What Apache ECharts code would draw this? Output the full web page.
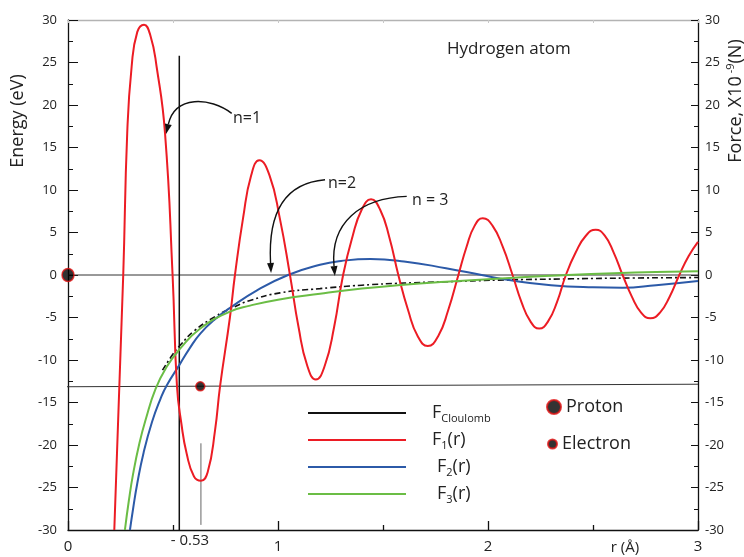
<!DOCTYPE html>
<html>
<head>
<meta charset="utf-8">
<script src="https://cdn.jsdelivr.net/npm/echarts@6.0.0/dist/echarts.min.js"></script>
<style>
html, body { margin: 0; padding: 0; background: #fff; }
#chart { width: 744px; height: 557px; }
</style>
</head>
<body>
<div id="chart"></div>
<script>
// values, r in Å, force in 1e-9 N
const xTicks = [0, 1, 2, 3]
const f1Data = [
  [0.2205, -30], [0.263, 0], [0.282, 16.7], [0.303, 24.5], [0.33, 28.6], [0.362, 29.45],
  [0.392, 28.2], [0.422, 24.5], [0.462, 16.7], [0.498, 0], [0.519, -13.1], [0.54, -17.5],
  [0.565, -21], [0.60, -23.7], [0.633, -24.2], [0.665, -23.2], [0.70, -18.3], [0.724, -13.1],
  [0.771, -5], [0.795, 0], [0.834, 6.75], [0.872, 11.7], [0.911, 13.5], [0.96, 11.7],
  [1.008, 6.75], [1.057, 0], [1.098, -6.15], [1.139, -10.65], [1.18, -12.3], [1.223, -10.65],
  [1.267, -6.15], [1.31, 0], [1.354, 4.45], [1.399, 7.7], [1.443, 8.9], [1.486, 7.7],
  [1.53, 4.45], [1.573, 0], [1.62, -4.18], [1.666, -7.23], [1.713, -8.35], [1.762, -7.23],
  [1.81, -4.18], [1.859, 0], [1.898, 3.33], [1.936, 5.78], [1.975, 6.67], [2.022, 5.78],
  [2.07, 3.33], [2.117, 0], [2.159, -3.15], [2.202, -5.46], [2.244, -6.3], [2.286, -5.46],
  [2.329, -3.15], [2.371, 0], [2.418, 2.67], [2.466, 4.62], [2.513, 5.33], [2.556, 4.62],
  [2.598, 2.67], [2.641, 0], [2.685, -2.55], [2.729, -4.42], [2.773, -5.1], [2.819, -4.42],
  [2.865, -2.55], [2.911, 0], [2.955, 2.2], [3.0, 3.9]
]
const f2Data = [
  [0.295, -30], [0.31, -27.5], [0.33, -24.5], [0.36, -20.9], [0.40, -17.3], [0.44, -14.6],
  [0.47, -13.0], [0.53, -10.6], [0.58, -8.6], [0.63, -6.9], [0.70, -5.2], [0.77, -3.9],
  [0.90, -1.8], [1.048, 0], [1.2, 1.2], [1.3, 1.65], [1.44, 1.88], [1.6, 1.6],
  [1.8, 0.8], [1.97, 0], [2.1, -0.6], [2.3, -1.2], [2.5, -1.45], [2.64, -1.5],
  [2.8, -1.2], [3.0, -0.7]
]
const f3Data = [
  [0.271, -30], [0.29, -26.5], [0.31, -23.4], [0.34, -19.8], [0.37, -17.0], [0.417, -13.4],
  [0.47, -10.8], [0.533, -8.7], [0.63, -6.3], [0.771, -4.3], [0.867, -3.6], [1.0, -2.9],
  [1.2, -2.2], [1.4, -1.6], [1.6, -1.15], [1.8, -0.8], [2.0, -0.5], [2.2, -0.2],
  [2.38, 0], [2.6, 0.2], [2.8, 0.35], [3.0, 0.45]
]
const coulombData = [
  [0.45, -11.2], [0.5, -9.3], [0.533, -8.3], [0.6, -6.6], [0.7, -4.9], [0.771, -4.0],
  [0.867, -3.0], [1.01, -2.1], [1.2, -1.6], [1.4, -1.2], [1.6, -0.95], [1.8, -0.8],
  [2.05, -0.6], [2.4, -0.45], [2.7, -0.35], [3.0, -0.3]
]
const zeroLine = [[0, 0], [3, 0]]
const groundLine = [[-0.046, -13.15], [3, -12.85]]
const bohrLine = [[0.53, -30], [0.53, 25.8]]
const electronTick = [[0.633, -19.8], [0.633, -29.4]]
const protonPos = [[0, 0]]
const electronPos = [[0.63, -13.1]]
// arrows: start, control 1, control 2, tip (data coords)
const arrowN1 = [[0.7795, 19.02], [0.676, 20.94], [0.51, 21.18], [0.467, 16.59]]
const arrowN2 = [[1.224, 11.21], [1.033, 10.82], [0.952, 7.29], [0.967, 0.24]]
const arrowN3 = [[1.613, 9.25], [1.39, 9.06], [1.248, 6.12], [1.271, -0.12]]

const FONT = 'Open Sans'
const myChart = echarts.init(document.getElementById('chart'))

const plainLine = (data, color, width, extra) => Object.assign({
  type: 'line',
  data: data,
  showSymbol: false,
  silent: true,
  lineStyle: { color: color, width: width },
  itemStyle: { color: color },
  z: 2
}, extra || {})

const curve = (name, data, color, extra) => Object.assign({
  name: name,
  type: 'line',
  data: data,
  smooth: 0.5,
  showSymbol: false,
  lineStyle: { color: color, width: 2 },
  itemStyle: { color: color },
  z: 3
}, extra || {})

const legendLabels = {
  Coulomb: '{f|F}{s|Cloulomb}',
  F1: '{f|F}{s|1}{g|(r)}',
  F2: '{h|F}{s|2}{g|(r)}',
  F3: '{h|F}{s|3}{g|(r)}'
}

myChart.setOption({
  animation: false,
  textStyle: { fontFamily: FONT },
  grid: { left: 68, right: 46, top: 20, bottom: 27 },
  xAxis: [
    {
      type: 'value', min: 0, max: 3, interval: 1,
      axisLine: { onZero: false, lineStyle: { color: '#111', width: 1.3 } },
      axisTick: { inside: true, length: 9, lineStyle: { color: '#111', width: 1.3 } },
      minorTick: { show: true, splitNumber: 2, length: 5, lineStyle: { color: '#111', width: 1.3 } },
      splitLine: { show: false },
      axisLabel: {
        color: '#222', fontSize: 15, margin: 9, fontFamily: FONT,
        formatter: (v) => xTicks.includes(v) ? String(v) : ''
      }
    },
    {
      type: 'value', position: 'top', min: 0, max: 3, interval: 0.5,
      axisLine: { onZero: false, lineStyle: { color: '#b3b3b3', width: 1.3 } },
      axisTick: { inside: true, length: 3, lineStyle: { color: '#c8c8c8' } },
      axisLabel: { show: false },
      splitLine: { show: false }
    }
  ],
  yAxis: [
    {
      type: 'value', min: -30, max: 30, interval: 5, position: 'left',
      axisLine: { show: true, onZero: false, lineStyle: { color: '#111', width: 1.3 } },
      axisTick: { show: true, inside: true, length: 10, lineStyle: { color: '#111' } },
      minorTick: { show: true, splitNumber: 2, length: 5, lineStyle: { color: '#111' } },
      splitLine: { show: false },
      axisLabel: { color: '#222', fontSize: 13, margin: 11, fontFamily: FONT }
    },
    {
      type: 'value', min: -30, max: 30, interval: 5, position: 'right',
      axisLine: { show: true, onZero: false, lineStyle: { color: '#111', width: 1.3 } },
      axisTick: { show: true, inside: true, length: 7, lineStyle: { color: '#111' } },
      minorTick: { show: true, splitNumber: 2, length: 4, lineStyle: { color: '#111' } },
      splitLine: { show: false },
      axisLabel: { color: '#222', fontSize: 13, margin: 7, fontFamily: FONT }
    }
  ],
  legend: [
    {
      data: ['Coulomb', 'F1', 'F2', 'F3'],
      orient: 'vertical', left: 303, top: 399,
      itemWidth: 98, itemHeight: 2, itemGap: 7,
      icon: 'rect', selectedMode: false,
      formatter: (n) => legendLabels[n],
      textStyle: {
        color: '#222',
        rich: {
          f: { fontSize: 18, lineHeight: 22, padding: [0, 0, 0, 21], fontFamily: FONT, color: '#222' },
          h: { fontSize: 18, lineHeight: 22, padding: [0, 0, 0, 26], fontFamily: FONT, color: '#222' },
          g: { fontSize: 18, lineHeight: 22, fontFamily: FONT, color: '#222' },
          s: { fontSize: 11, lineHeight: 12, verticalAlign: 'bottom', fontFamily: FONT, color: '#222' }
        }
      }
    },
    {
      data: [{ name: 'Proton', icon: 'circle' }],
      left: 541, top: 391, itemWidth: 14, itemHeight: 16, selectedMode: false,
      textStyle: { fontSize: 18, lineHeight: 22, color: '#222', fontFamily: FONT }
    },
    {
      data: [{ name: 'Electron', icon: 'circle' }],
      left: 542, top: 428, itemWidth: 9, itemHeight: 9, selectedMode: false,
      textStyle: { fontSize: 18, lineHeight: 22, color: '#222', fontFamily: FONT }
    }
  ],
  series: [
    plainLine(zeroLine, '#333', 1),
    plainLine(groundLine, '#333', 1, { clip: false }),
    plainLine(bohrLine, '#111', 1.5),
    plainLine(electronTick, '#666', 1),
    curve('Coulomb', coulombData, '#111', { lineStyle: { color: '#111', width: 1.6, type: [6, 3, 2, 3] } }),
    curve('F2', f2Data, '#2c5aa8'),
    curve('F1', f1Data, '#ec1c24'),
    curve('F3', f3Data, '#6bbd45'),
    {
      name: 'Proton', type: 'scatter', data: protonPos, symbol: 'circle', symbolSize: [12, 13],
      clip: false, z: 5,
      itemStyle: { color: '#000', borderColor: '#e01010', borderWidth: 1.5 }
    },
    {
      name: 'Electron', type: 'scatter', data: electronPos, symbol: 'circle', symbolSize: 9,
      clip: false, z: 5,
      itemStyle: { color: '#000', borderColor: '#e01010', borderWidth: 1.5 }
    }
  ]
})

const arrowShapes = (pts) => {
  const p = pts.map((q) => myChart.convertToPixel({ gridIndex: 0 }, q))
  const [s, c1, c2, t] = p
  const dx = t[0] - c2[0]
  const dy = t[1] - c2[1]
  const len = Math.hypot(dx, dy)
  const ux = dx / len
  const uy = dy / len
  const hl = 10
  const hw = 3.5
  const base = [t[0] - ux * hl, t[1] - uy * hl]
  return [
    {
      type: 'bezierCurve', silent: true, z: 10,
      shape: { x1: s[0], y1: s[1], cpx1: c1[0], cpy1: c1[1], cpx2: c2[0], cpy2: c2[1], x2: base[0], y2: base[1] },
      style: { stroke: '#111', lineWidth: 1.4, fill: 'none' }
    },
    {
      type: 'polygon', silent: true, z: 10,
      shape: { points: [t, [base[0] - uy * hw, base[1] + ux * hw], [base[0] + uy * hw, base[1] - ux * hw]] },
      style: { fill: '#111' }
    }
  ]
}

const label = (text, x, y, size, align) => ({
  type: 'text', x: x, y: y, silent: true, z: 10,
  style: { text: text, fontSize: size, fontFamily: FONT, fill: '#222', align: align || 'left', verticalAlign: 'middle' }
})

myChart.setOption({
  graphic: [
    ...arrowShapes(arrowN1),
    ...arrowShapes(arrowN2),
    ...arrowShapes(arrowN3),
    label('Hydrogen atom', 447, 49, 17),
    label('n=1', 233, 118, 16),
    label('n=2', 328, 183, 16),
    label('n = 3', 412, 200, 16),
    label('- 0.53', 190, 541, 15, 'center'),
    label('r (Å)', 625, 548, 15, 'center'),
    {
      type: 'text', x: 18, y: 121, rotation: Math.PI / 2, silent: true,
      style: { text: 'Energy (eV)', fontSize: 18, fontFamily: FONT, fill: '#222', align: 'center', verticalAlign: 'middle' }
    },
    {
      type: 'text', x: 736, y: 101, rotation: Math.PI / 2, silent: true,
      style: {
        text: '{a|Force, X10}{b| -9}{a|(N)}',
        align: 'center', verticalAlign: 'middle',
        rich: {
          a: { fontSize: 18, fontFamily: FONT, fill: '#222', lineHeight: 22 },
          b: { fontSize: 11, fontFamily: FONT, fill: '#222', verticalAlign: 'top', lineHeight: 12 }
        }
      }
    }
  ]
})
</script>
</body>
</html>
